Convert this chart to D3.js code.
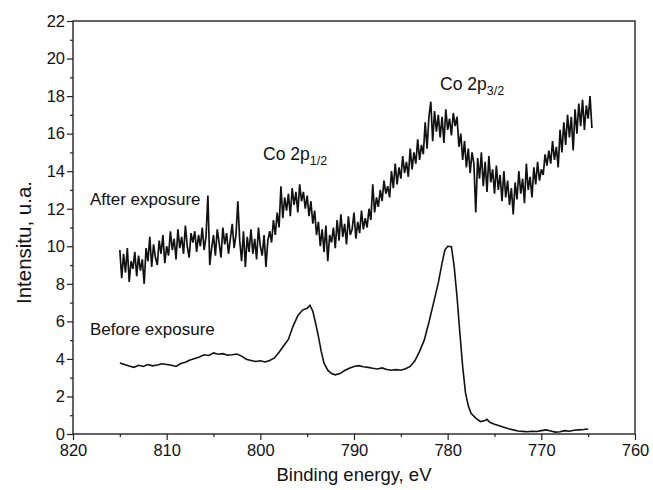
<!DOCTYPE html>
<html>
<head>
<meta charset="utf-8">
<script src="https://cdn.jsdelivr.net/npm/d3@7"></script>
<style>
  body { margin: 0; background: #fff; }
  text { font-family: "Liberation Sans", Arial, sans-serif; fill: #111; }
</style>
</head>
<body>
<div id="chart"></div>
<script>
// tick values
var xMajor = [820, 810, 800, 790, 780, 770, 760];
var xMinor = [815, 805, 795, 785, 775, 765];
var yMajor = [0, 2, 4, 6, 8, 10, 12, 14, 16, 18, 20, 22];
var yMinor = [1, 3, 5, 7, 9, 11, 13, 15, 17, 19, 21];

// "Before exposure" spectrum
var beforeEnergy = [815.0, 814.5, 814.0, 813.5, 813.0, 812.5, 812.0, 811.5, 811.0, 810.5,
  810.0, 809.5, 809.0, 808.5, 808.0, 807.5, 807.0, 806.5, 806.0, 805.5,
  805.0, 804.5, 804.0, 803.5, 803.0, 802.5, 802.0, 801.5, 801.0, 800.5,
  800.0, 799.5, 799.0, 798.5, 798.0, 797.5, 797.0, 796.5, 796.0, 795.5,
  795.0, 794.7, 794.4, 794.1, 793.8, 793.5, 793.2, 792.8, 792.4, 792.0,
  791.5, 791.0, 790.5, 790.0, 789.5, 789.0, 788.5, 788.0, 787.5, 787.0,
  786.5, 786.0, 785.5, 785.0, 784.5, 784.0, 783.5, 783.0, 782.5, 782.0,
  781.5, 781.0, 780.6, 780.3, 780.0, 779.6, 779.3, 779.0, 778.7, 778.4,
  778.1, 777.8, 777.5, 777.0, 776.5, 776.0, 775.8, 775.5, 775.0, 774.5,
  774.0, 773.5, 773.0, 772.5, 772.0, 771.5, 771.0, 770.5, 770.0, 769.5,
  769.0, 768.5, 768.0, 767.5, 767.0, 766.5, 766.0, 765.5, 765.0];
var beforeIntensity = [3.78, 3.70, 3.62, 3.55, 3.66, 3.60, 3.70, 3.63, 3.68, 3.74,
  3.70, 3.66, 3.60, 3.75, 3.82, 3.94, 4.02, 4.10, 4.22, 4.18,
  4.32, 4.25, 4.28, 4.20, 4.22, 4.26, 4.15, 3.98, 3.92, 3.86,
  3.90, 3.84, 3.92, 4.05, 4.35, 4.70, 5.05, 5.75, 6.30, 6.60,
  6.70, 6.85, 6.55, 5.90, 5.20, 4.40, 3.77, 3.40, 3.22, 3.15,
  3.22, 3.38, 3.50, 3.60, 3.64, 3.58, 3.55, 3.50, 3.46, 3.52,
  3.44, 3.40, 3.43, 3.40, 3.48, 3.60, 3.90, 4.40, 5.00, 5.95,
  7.00, 8.05, 9.10, 9.80, 10.0, 9.98, 8.90, 7.30, 5.40, 3.60,
  2.20, 1.50, 1.10, 0.85, 0.66, 0.72, 0.78, 0.62, 0.52, 0.44,
  0.36, 0.28, 0.22, 0.16, 0.14, 0.12, 0.15, 0.13, 0.18, 0.22,
  0.16, 0.10, 0.12, 0.18, 0.15, 0.20, 0.22, 0.24, 0.27];

// "After exposure" spectrum, sampled every 0.2 eV from 815.0 eV
var afterStart = 815.0, afterStep = 0.2;
var afterIntensity = [
  9.8, 8.3, 9.6, 8.6, 9.9, 8.1, 9.2, 8.8, 9.7, 8.4,
  9.5, 8.7, 9.3, 8.0, 9.9, 9.2, 10.5, 8.9, 10.1, 9.4,
  9.0, 10.3, 9.6, 10.6, 9.1, 10.0, 9.5, 10.8, 9.8, 10.4,
  9.3, 10.9, 9.9, 10.5, 9.6, 11.1, 10.0, 9.4, 10.7, 10.2,
  10.8, 9.7, 10.6, 10.0, 11.0, 9.8, 10.5, 12.7, 9.0, 9.9,
  10.6, 9.5, 10.9, 10.2, 9.4, 11.0, 10.1, 10.7, 9.6, 10.4,
  11.2, 9.9, 10.6, 12.4, 10.3, 9.2, 10.8, 8.9, 10.5, 9.7,
  10.9, 9.6, 10.4, 9.3, 11.0, 10.0, 9.5, 10.6, 8.9, 10.3,
  10.8, 10.2, 11.4, 10.6, 11.8, 11.0, 13.2, 11.5, 12.6, 11.9,
  12.8, 11.6, 13.1, 12.2, 12.9, 11.8, 13.3, 12.4, 12.9, 12.0,
  12.7, 11.6, 12.4, 11.2, 11.9, 10.6, 11.3, 10.0, 10.9, 9.7,
  11.1, 9.2, 10.6, 10.2, 11.0, 9.9, 11.4, 10.3, 11.7, 10.5,
  11.2, 10.1, 11.6, 10.6, 10.9, 11.8, 10.4, 11.3, 10.7, 11.9,
  10.9, 11.5, 11.0, 12.0, 11.4, 13.3, 11.8, 12.6, 12.1, 13.0,
  12.4, 13.5, 12.8, 13.2, 12.6, 14.0, 13.1, 14.4, 13.3, 14.2,
  13.6, 14.8, 13.9, 14.5, 13.7, 15.2, 14.1, 15.0, 14.4, 15.7,
  14.6, 15.4, 14.9, 16.6, 15.2, 16.9, 17.7, 15.6, 17.2, 16.1,
  17.0, 15.8, 16.9, 15.5, 17.3, 16.2, 16.8, 15.9, 17.1, 16.4,
  16.9, 15.3, 16.0, 14.6, 15.6, 14.2, 15.2, 13.9, 15.0, 14.4,
  11.8, 14.7, 13.6, 15.0, 13.2, 14.5, 12.9, 14.8, 13.4, 14.1,
  12.8, 14.3, 13.0, 13.8, 12.4, 14.0, 12.6, 13.5, 12.2, 13.1,
  11.7, 13.4, 12.5, 14.0, 12.8, 13.6, 12.3, 14.4, 13.0, 13.7,
  12.6, 14.2, 13.3, 14.5, 13.5, 14.1, 13.8, 14.9, 14.3, 15.1,
  14.4, 15.6, 14.6, 15.3, 14.2, 16.2, 15.0, 16.6, 15.4, 17.0,
  15.8, 16.9, 15.1, 17.3, 16.0, 17.6, 16.4, 17.8, 16.2, 17.5,
  16.8, 18.0, 16.3];

var margin = { top: 21, right: 18, bottom: 56, left: 73 },
  width = 653 - margin.left - margin.right,
  height = 490 - margin.top - margin.bottom;

var svg = d3.select("#chart").append("svg")
  .attr("width", 653)
  .attr("height", 490);
var g = svg.append("g")
  .attr("transform", "translate(" + margin.left + "," + margin.top + ")");

var x = d3.scaleLinear().domain([820, 760]).range([0, width]);
var y = d3.scaleLinear().domain([0, 22]).range([height, 0]);

// axes: major ticks with labels, minor ticks without
g.append("g")
  .attr("transform", "translate(0," + height + ")")
  .call(d3.axisBottom(x).tickValues(xMajor).tickSize(6).tickPadding(4).tickFormat(d3.format("d")));
g.append("g")
  .attr("transform", "translate(0," + height + ")")
  .call(d3.axisBottom(x).tickValues(xMinor).tickSize(3).tickFormat(""));
g.append("g")
  .call(d3.axisLeft(y).tickValues(yMajor).tickSize(6).tickPadding(2));
g.append("g")
  .call(d3.axisLeft(y).tickValues(yMinor).tickSize(3).tickFormat(""));

g.selectAll(".domain").remove();
g.selectAll(".tick line").attr("stroke", "#222").attr("stroke-width", 1.2);
g.selectAll(".tick text").style("font-size", "16.5px").attr("fill", "#111");

// frame
g.append("rect")
  .attr("width", width)
  .attr("height", height)
  .attr("fill", "none")
  .attr("stroke", "#222")
  .attr("stroke-width", 1.4);

// lines
var line = d3.line()
  .x(function (d) { return x(d[0]); })
  .y(function (d) { return y(d[1]); });

var afterData = afterIntensity.map(function (v, i) {
  return [afterStart - i * afterStep, v];
});
var beforeData = beforeEnergy.map(function (e, i) {
  return [e, beforeIntensity[i]];
});

g.append("path")
  .datum(afterData)
  .attr("d", line)
  .attr("fill", "none")
  .attr("stroke", "#111")
  .attr("stroke-width", 1.7);

g.append("path")
  .datum(beforeData)
  .attr("d", line)
  .attr("fill", "none")
  .attr("stroke", "#111")
  .attr("stroke-width", 1.6);

// annotations
g.append("text")
  .attr("x", 17).attr("y", 184)
  .style("font-size", "17px")
  .text("After exposure");
g.append("text")
  .attr("x", 17).attr("y", 314)
  .style("font-size", "17px")
  .text("Before exposure");

var co1 = g.append("text")
  .attr("x", 190).attr("y", 139)
  .style("font-size", "17.5px");
co1.append("tspan").text("Co 2p");
co1.append("tspan").attr("dy", 5).style("font-size", "12.5px").text("1/2");

var co3 = g.append("text")
  .attr("x", 367).attr("y", 69)
  .style("font-size", "17.5px");
co3.append("tspan").text("Co 2p");
co3.append("tspan").attr("dy", 5).style("font-size", "12.5px").text("3/2");

// axis titles
svg.append("text")
  .attr("x", margin.left + width / 2)
  .attr("y", 481)
  .attr("text-anchor", "middle")
  .style("font-size", "18.5px")
  .text("Binding energy, eV");

svg.append("text")
  .attr("transform", "translate(31," + (margin.top + height / 2 + 15) + ") rotate(-90)")
  .attr("text-anchor", "middle")
  .style("font-size", "20.5px")
  .text("Intensitu, u.a.");
</script>
</body>
</html>
